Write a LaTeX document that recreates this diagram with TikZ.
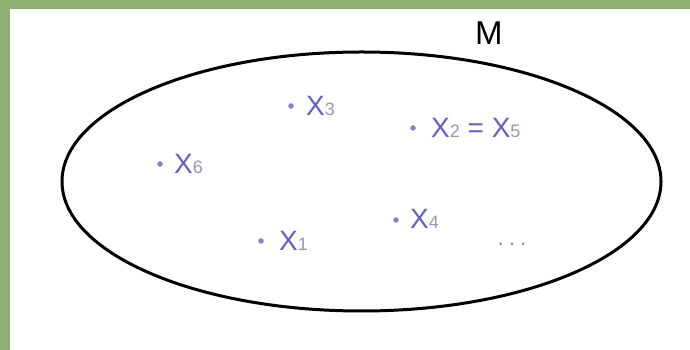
\documentclass[tikz,border=0pt]{standalone}
\usepackage{fontspec}
\setmainfont{Liberation Sans}
\definecolor{framegreen}{RGB}{143,175,115}
\definecolor{lblue}{RGB}{100,98,190}
\definecolor{sgray}{RGB}{150,150,185}
\newcommand{\lsub}[1]{{\color{sgray}\fontsize{18}{18}\selectfont #1}}
\begin{document}
\begin{tikzpicture}[x=1pt,y=1pt,
  lbl/.style={anchor=base west,inner sep=0pt,text=lblue,font=\fontsize{28}{28}\selectfont},
  pt/.style={circle,fill=lblue!80,inner sep=0pt,minimum size=5.5pt},
  setline/.style={line width=3pt,draw=black}]
\useasboundingbox (0,0) rectangle (690,350);
\fill[white] (0,0) rectangle (690,350);
\fill[framegreen] (0,0) rectangle (10,350);
\fill[framegreen] (0,341) rectangle (690,350);
\draw[setline] (361.5,168.5) ellipse [x radius=299.5, y radius=129.5];
\node[anchor=base west,inner sep=0pt,font=\fontsize{33}{33}\selectfont] (M) at (475,305) {M};
\node[pt] (p3) at (291,244) {};
\node[lbl] (x3) at (306,234) {X\lsub{3}};
\node[pt] (p2) at (413,222) {};
\node[lbl] (x2) at (431,212) {X\lsub{2} = X\lsub{5}};
\node[pt] (p6) at (160,186) {};
\node[lbl] (x6) at (174,176) {X\lsub{6}};
\node[pt] (p1) at (261,109) {};
\node[lbl] (x1) at (279,99) {X\lsub{1}};
\node[pt] (p4) at (396,130) {};
\node[lbl] (x4) at (410,121) {X\lsub{4}};
\node[anchor=base,inner sep=0pt,text=sgray!90!black,font=\fontsize{27}{27}\selectfont] (dots) at (512,99) {$\cdots$};
\end{tikzpicture}
\end{document}
